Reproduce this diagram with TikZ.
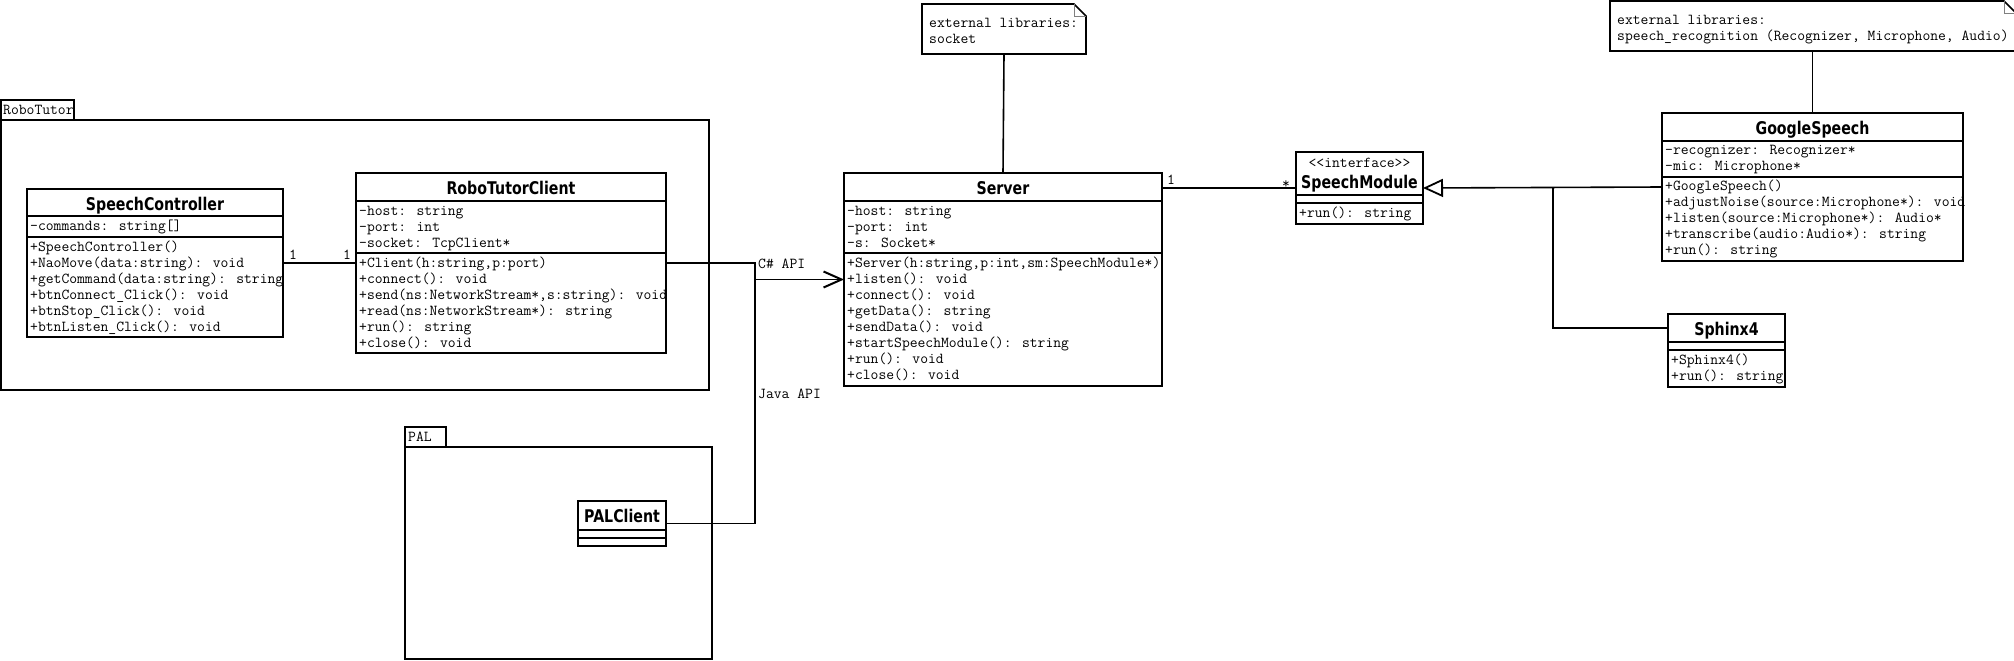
\documentclass[tikz,border=0pt]{standalone}
\usepackage{fontspec}
\usetikzlibrary{arrows.meta}
\newfontfamily\clsf[FakeStretch=0.81]{DejaVu Sans}
\tikzset{
  mono/.style={font=\ttfamily\fontsize{15.2}{16}\selectfont, inner sep=0pt, anchor=base west},
  ttl/.style={font=\clsf\bfseries\fontsize{17.5}{20}\selectfont, inner sep=0pt, anchor=base},
  cls/.style={draw, line width=1.8pt, fill=white, inner sep=0pt, outer sep=0pt, anchor=north west},
  pkg/.style={draw, line width=1.8pt, inner sep=0pt, outer sep=0pt, anchor=north west},
  conn/.style={line width=1.6pt},
  notebox/.style={draw=none, inner sep=0pt, outer sep=0pt, anchor=north west},
}
\newcommand\hsep[2]{\draw[line width=1.8pt] ([yshift=-#2pt]#1.north west) -- ([yshift=-#2pt]#1.north east);}
\newcommand\txtlines[4]{\foreach \t [count=\i from 0] in {#4} {\node[mono, name=#1\i] at (#2,{#3+16*\i}) {\t};}}
\newcommand\noteoutline[1]{%
  \draw[line width=1.6pt] (#1.north west) -- ([xshift=-12pt]#1.north east) -- ([yshift=-12pt]#1.north east) -- (#1.south east) -- (#1.south west) -- cycle;
  \draw[line width=0.6pt, gray] ([xshift=-12pt]#1.north east) |- ([yshift=-12pt]#1.north east);}
\begin{document}
\begin{tikzpicture}[x=1pt,y=-1pt]
\fill[white] (0,0) rectangle (2014,661);
\useasboundingbox (0,0) rectangle (2014,661);

% packages
\node[pkg, minimum width=73pt, minimum height=20pt] (rttab) at (1,100) {};
\node[pkg, minimum width=708pt, minimum height=270pt] (rtpkg) at (1,120) {};
\node[mono] (rtlbl) at (3,114) {RoboTutor};
\node[pkg, minimum width=41pt, minimum height=20pt] (paltab) at (405,427) {};
\node[pkg, minimum width=307pt, minimum height=212pt] (palpkg) at (405,447) {};
\node[mono] (pallbl) at (408,441) {PAL};

% notes
\node[notebox, minimum width=164pt, minimum height=50pt] (n1) at (922,4) {};
\noteoutline{n1}
\txtlines{n1t}{929}{28}{external libraries:, socket}
\node[notebox, minimum width=406pt, minimum height=50pt] (n2) at (1610,1) {};
\noteoutline{n2}
\txtlines{n2t}{1617}{25}{external libraries:, {speech\_recognition (Recognizer, Microphone, Audio)}}

% SpeechController
\node[cls, minimum width=256pt, minimum height=148pt] (sc) at (27,189) {};
\hsep{sc}{27} \hsep{sc}{48}
\node[ttl] (scT) at (155,210) {SpeechController};
\txtlines{sca}{30}{230}{-commands: string[]}
\txtlines{scm}{30}{251}{+SpeechController(), +NaoMove(data:string): void, +getCommand(data:string): string, +btnConnect\_Click(): void, +btnStop\_Click(): void, +btnListen\_Click(): void}

% RoboTutorClient
\node[cls, minimum width=310pt, minimum height=180pt] (rtc) at (356,173) {};
\hsep{rtc}{28} \hsep{rtc}{80}
\node[ttl] (rtcT) at (511,194) {RoboTutorClient};
\txtlines{rtca}{359}{215}{-host: string, -port: int, -socket: TcpClient*}
\txtlines{rtcm}{359}{267}{{+Client(h:string,p:port)}, +connect(): void, {+send(ns:NetworkStream*,s:string): void}, +read(ns:NetworkStream*): string, +run(): string, +close(): void}

% Server
\node[cls, minimum width=318pt, minimum height=213pt] (srv) at (844,173) {};
\hsep{srv}{28} \hsep{srv}{80}
\node[ttl] (srvT) at (1003,194) {Server};
\txtlines{srva}{847}{215}{-host: string, -port: int, -s: Socket*}
\txtlines{srvm}{847}{267}{{+Server(h:string,p:int,sm:SpeechModule*)}, +listen(): void, +connect(): void, +getData(): string, +sendData(): void, +startSpeechModule(): string, +run(): void, +close(): void}

% SpeechModule
\node[cls, minimum width=127pt, minimum height=72pt] (sm) at (1296,152) {};
\hsep{sm}{43} \hsep{sm}{51}
\node[mono, anchor=base] (smS) at (1359.5,167) {<<interface>>};
\node[ttl] (smT) at (1359.5,188) {SpeechModule};
\txtlines{smm}{1299}{217}{+run(): string}

% GoogleSpeech
\node[cls, minimum width=301pt, minimum height=148pt] (gs) at (1662,113) {};
\hsep{gs}{28} \hsep{gs}{64}
\node[ttl] (gsT) at (1812.5,134) {GoogleSpeech};
\txtlines{gsa}{1665}{154}{-recognizer: Recognizer*, -mic: Microphone*}
\txtlines{gsm}{1665}{190}{+GoogleSpeech(), +adjustNoise(source:Microphone*): void, +listen(source:Microphone*): Audio*, +transcribe(audio:Audio*): string, +run(): string}

% Sphinx4
\node[cls, minimum width=117pt, minimum height=73pt] (sph) at (1668,314) {};
\hsep{sph}{28} \hsep{sph}{36}
\node[ttl] (sphT) at (1726.5,335) {Sphinx4};
\txtlines{sphm}{1671}{364}{+Sphinx4(), +run(): string}

% PALClient
\node[cls, minimum width=88pt, minimum height=45pt] (palc) at (578,501) {};
\hsep{palc}{29} \hsep{palc}{37}
\node[ttl] (palcT) at (622,522) {PALClient};

% connectors
\coordinate (jn) at (755,279.5);
\coordinate (gj) at (1553,187.5);
\draw[conn] (sc.east) -- (rtc.west);
\draw[conn] (rtc.east) -| (jn) |- (palc.east);
\draw[conn, -{Straight Barb[length=18pt, width=16pt, line width=2pt]}] (jn) -- (srv.west);
\draw[conn] (n1.south) -- (srv.north);
\draw[conn] (gs.north |- n2.south) -- (gs.north);
\draw[conn] (srv.east |- sm.west) -- (sm.west);
\draw[conn, -{Triangle[open, length=20pt, width=18pt, line width=1.8pt, fill=white]}] (gs.west) -- (sm.east);
\draw[conn] ([yshift=-14pt]sph.north west) -| (gj);

% labels
\node[mono] (l1) at (289,259) {1};
\node[mono] (l2) at (343,259) {1};
\node[mono] (l3) at (758,268) {C\# API};
\node[mono] (l4) at (758,398) {Java API};
\node[mono] (l5) at (1167,184) {1};
\node[mono] (l6) at (1282,188) {*};
\end{tikzpicture}
\end{document}
